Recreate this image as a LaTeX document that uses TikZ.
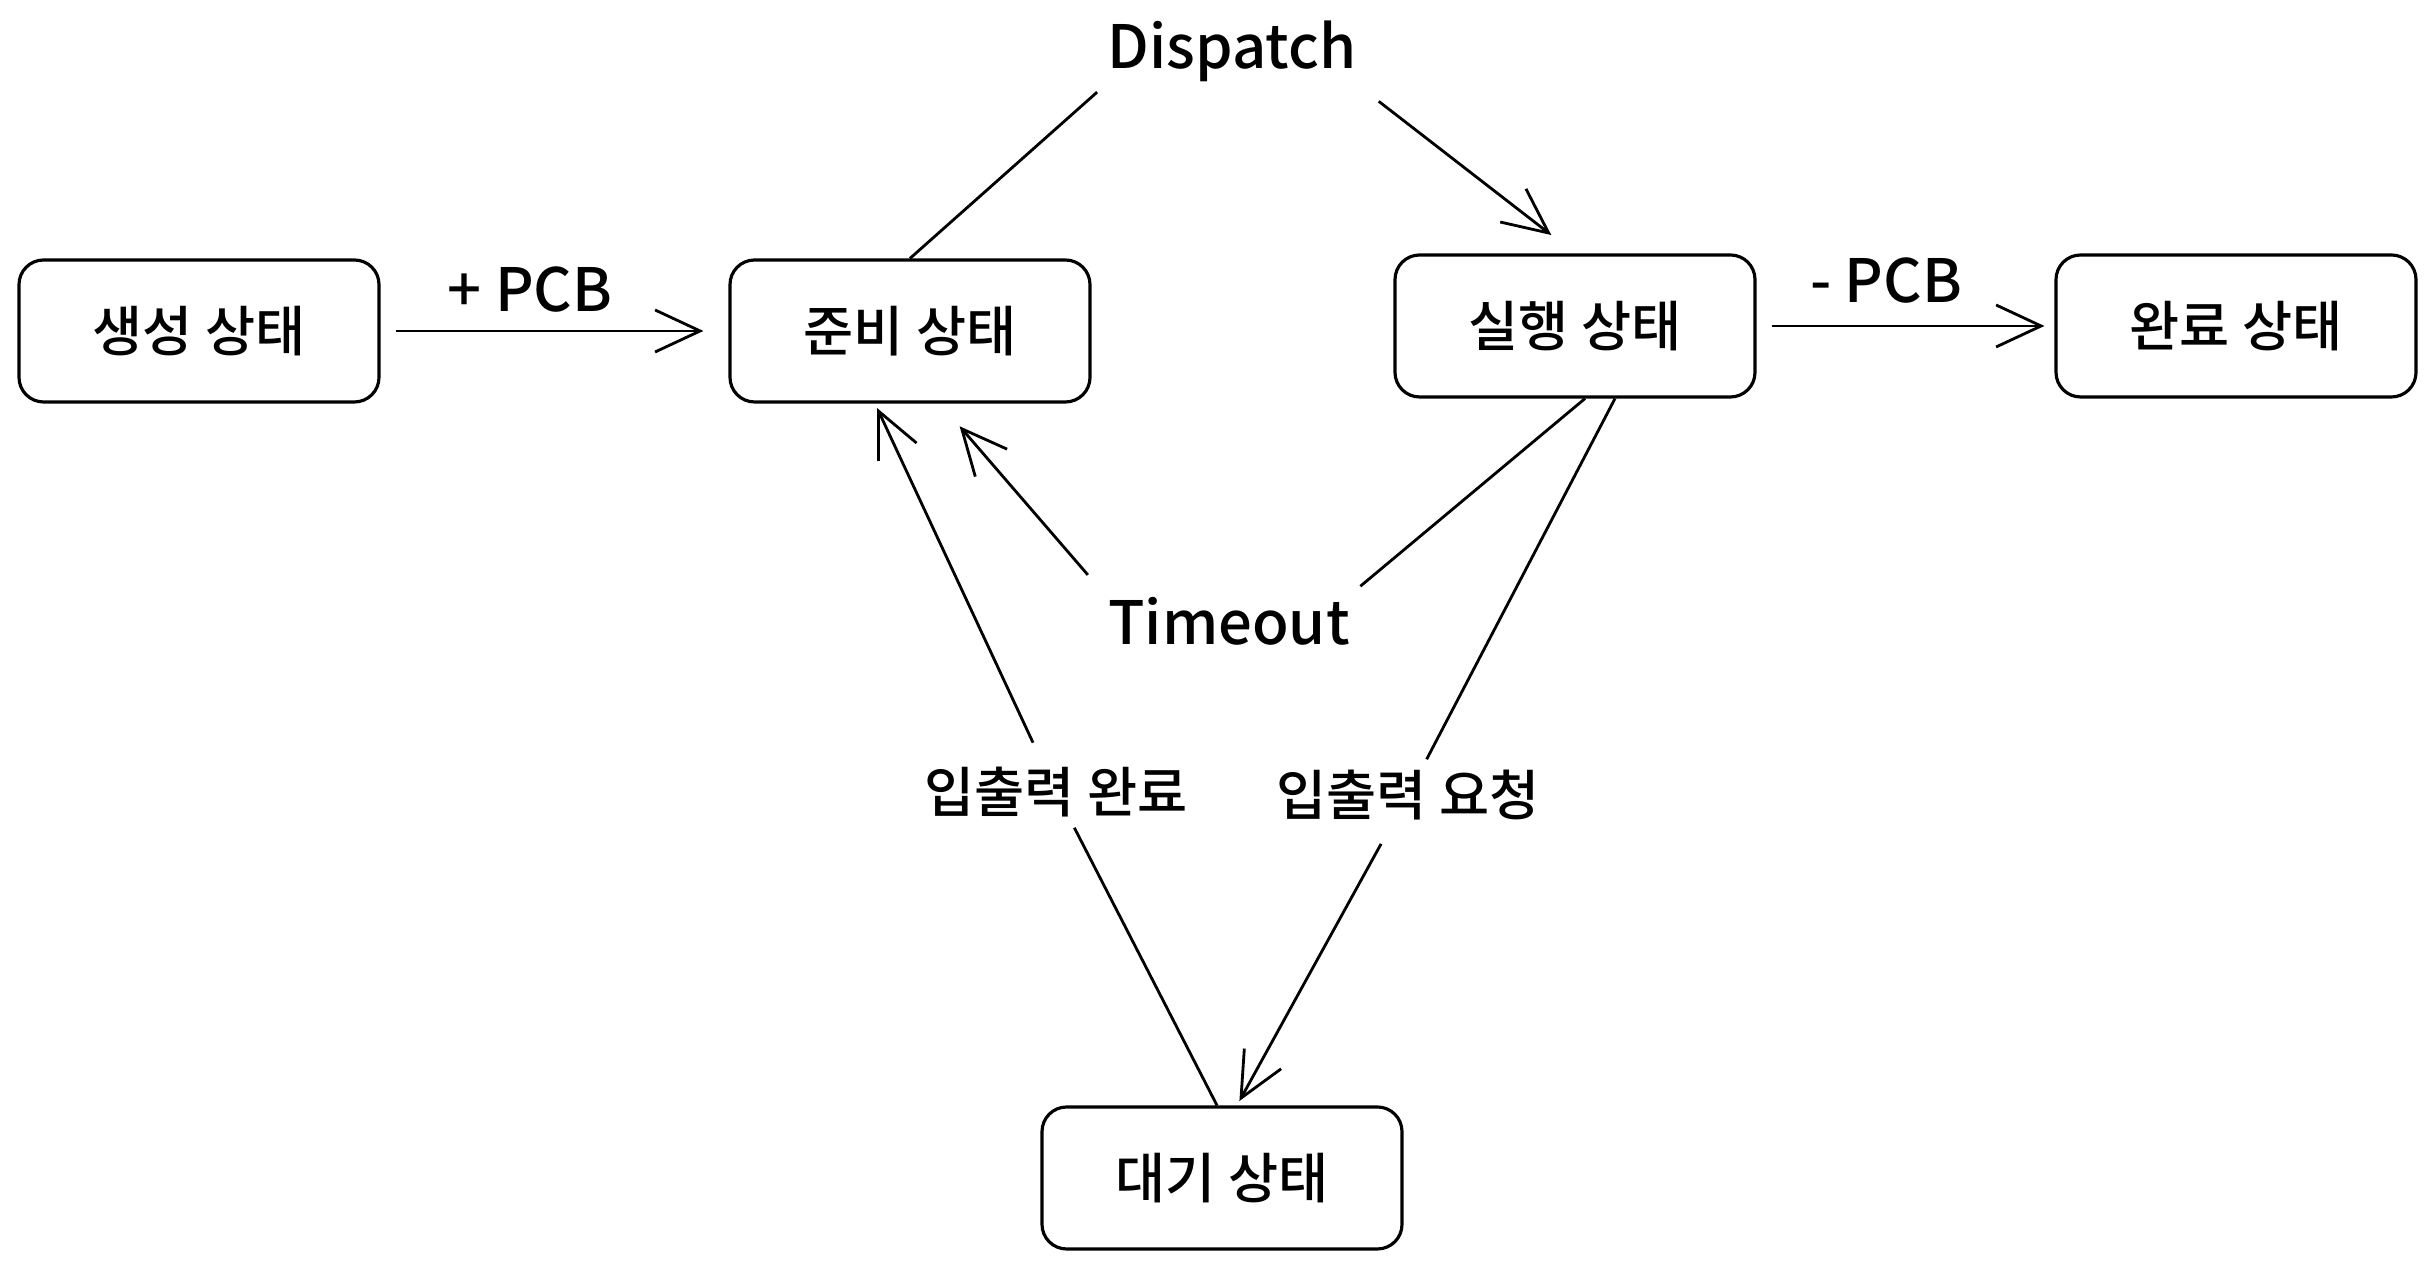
\documentclass[tikz,border=0pt]{standalone}
\usepackage{fontspec}
\setmainfont{Noto Sans CJK KR}[BoldFont={Noto Sans CJK KR Medium}]
\usetikzlibrary{arrows.meta}

\newcommand{\statefont}{\fontsize{15.5}{18}\selectfont\bfseries}
\newcommand{\edgefont}{\fontsize{17}{20}\selectfont\bfseries}

\begin{document}
\begin{tikzpicture}[x=1cm,y=1cm,>={Straight Barb[length=4.5mm,width=4.2mm]}]
  \useasboundingbox (0,0) rectangle (24.36,12.71);
  \tikzset{
    state/.style={draw,line width=0.9pt,rounded corners=7pt,
      minimum width=3.6cm,minimum height=1.42cm,font=\statefont},
    flow/.style={->,line width=0.8pt,shorten <=1.5mm,shorten >=2.5mm},
    tag/.style={font=\edgefont,inner sep=1mm},
  }

  % the five states of a process
  \node[state] (create) at (1.99,9.40) {생성 상태};
  \node[state] (ready)  at (9.10,9.40) {준비 상태};
  \node[state] (run)    at (15.75,9.45) {실행 상태};
  \node[state] (done)   at (22.36,9.45) {완료 상태};
  \node[state] (wait)   at (12.22,0.93) {대기 상태};

  % what moves a process from one state to the next
  \node[tag] (dispatch) at (12.32,12.20) {Dispatch};
  \node[tag] (pcbin)    at (5.30,9.81) {+ PCB};
  \node[tag] (pcbout)   at (18.86,9.90) {- PCB};
  \node[tag] (timeout)  at (12.29,6.50) {Timeout};
  \node[tag,font=\statefont] (iodone) at (10.56,4.79) {입출력 완료};
  \node[tag,font=\statefont] (ioreq)  at (14.08,4.76) {입출력 요청};

  \draw[flow] (create) -- (ready);
  \draw[flow,shorten >=1mm] (run) -- (done);

  \draw[flow,shorten >=3mm] (ready.north) -- (dispatch.south west)
    (dispatch.south east) -- (run.north);
  \draw[flow,shorten >=3mm] ([xshift=1mm]run.south) -- (timeout.north east)
    (timeout.north west) -- ([xshift=3mm]ready.south);

  \draw[flow,shorten >=0.5mm] ([xshift=4mm]run.south) -- (ioreq) -- ([xshift=1.5mm]wait.north);
  \draw[flow,shorten >=0.5mm] ([xshift=-0.5mm]wait.north) -- (iodone) -- ([xshift=-3.5mm]ready.south);
\end{tikzpicture}
\end{document}
